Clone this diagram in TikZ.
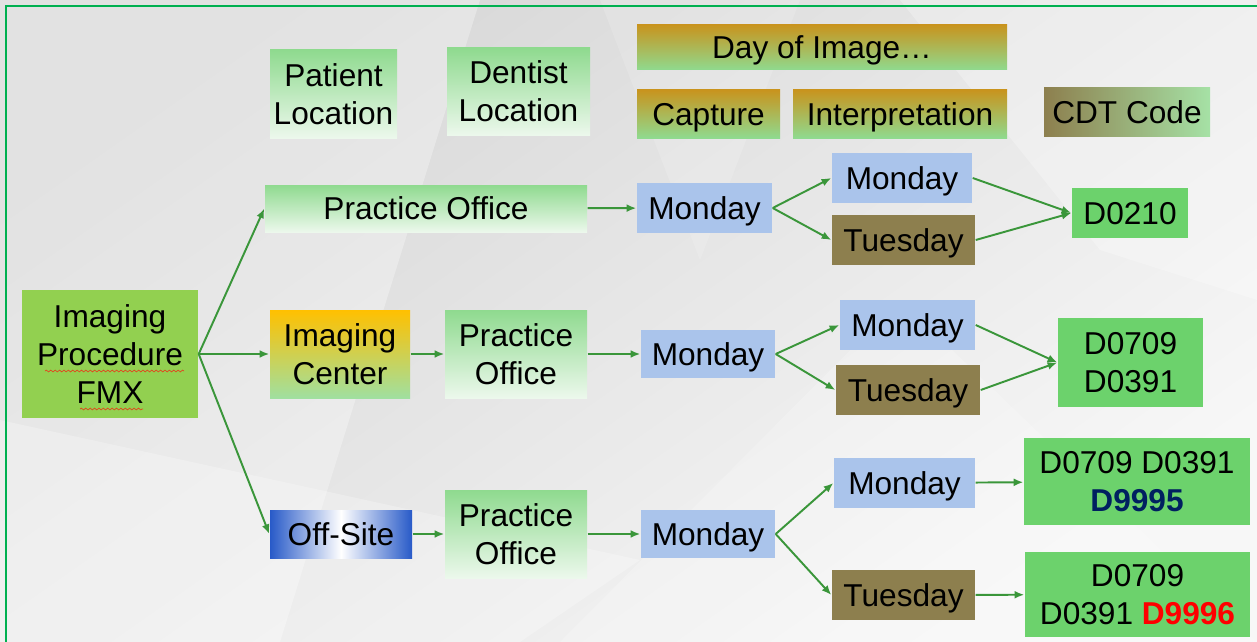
\documentclass[tikz,border=0pt]{standalone}
\usepackage{fontspec}
\setmainfont{Liberation Sans}
\usetikzlibrary{shapes,arrows.meta,positioning,calc,decorations.pathmorphing}

\definecolor{framegreen}{RGB}{0,176,80}
\definecolor{arrowgreen}{RGB}{58,150,58}
\definecolor{boxgreen}{RGB}{108,210,108}
\definecolor{limegreen}{RGB}{146,208,80}
\definecolor{paleblue}{RGB}{170,196,235}
\definecolor{olive}{RGB}{141,127,78}
\definecolor{gold}{RGB}{200,148,30}
\definecolor{amber}{RGB}{255,192,0}
\definecolor{softgreen}{RGB}{143,218,143}
\definecolor{fadegreen}{RGB}{236,248,236}
\definecolor{darknavy}{RGB}{0,32,96}
\definecolor{offblue}{RGB}{40,90,200}
\definecolor{spellred}{RGB}{225,70,30}

\begin{document}
\begin{tikzpicture}[
    x=0.02cm, y=-0.02cm,
    thick,
    >={Latex[length=5.5pt,width=4.5pt]},
    font=\fontsize{18}{21.8}\selectfont,
    every node/.style={align=center, inner sep=0pt},
    one line/.style={text height=16.5pt, text depth=3.8pt},
    size/.style 2 args={minimum width=#1*0.02cm, minimum height=#2*0.02cm},
    place node/.style={shading=axis, top color=softgreen, bottom color=fadegreen},
    day node/.style={one line, shading=axis, top color=gold, bottom color=softgreen},
    code head/.style={one line, shading=axis, left color=olive, right color=softgreen!80!white},
    center node/.style={shading=axis, top color=amber, bottom color=softgreen!85!white},
    offsite node/.style={one line, shading=axis, left color=offblue, right color=offblue, middle color=white},
    mon node/.style={one line, fill=paleblue},
    tue node/.style={one line, fill=olive},
    code node/.style={fill=boxgreen},
    proc node/.style={fill=limegreen},
    link/.style={->, draw=arrowgreen, line width=1.1pt},
    spell/.style={spellred, line width=0.4pt, decorate, decoration={snake, segment length=2.5pt, amplitude=0.5pt}}
]

% Background and frame
\useasboundingbox (0,0) rectangle (1257,642);
\shade[top color=gray!32, bottom color=gray!6, shading angle=35] (0,0) rectangle (1257,642);
\fill[white, opacity=0.3] (0,0) -- (480,0) -- (280,642) -- (0,642) -- cycle;
\fill[white, opacity=0.25] (900,0) -- (1257,0) -- (1257,300) -- (1100,250) -- cycle;
\fill[white, opacity=0.2] (560,642) -- (900,300) -- (1257,642) -- cycle;
\fill[white, opacity=0.25] (0,420) -- (640,560) -- (520,642) -- (0,642) -- cycle;
\fill[white, opacity=0.15] (600,0) -- (800,0) -- (700,260) -- cycle;
\draw[framegreen, line width=1.2pt] (6,6) rectangle (1262,648);

% Header boxes
\node[place node, size={127}{88}] (patloc) at (333.5,94) {Patient\\Location};
\node[place node, size={143}{87}] (dentloc) at (518.5,91.5) {Dentist\\Location};
\node[day node, size={370}{45}] (dayimg) at (822,47.5) {Day of Image\ldots};
\node[day node, size={143}{48}] (capture) at (708.5,114) {Capture};
\node[day node, size={214}{48}] (interp) at (900,114) {Interpretation};
\node[code head, size={166}{48}] (cdt) at (1127,112) {CDT Code};

% Procedure
\node[proc node, size={176}{128}] (fmx) at (110,354) {Imaging\\Procedure\\FMX};
\draw[spell] (45,371) -- (184,371);
\draw[spell] (80,409) -- (143,409);

% Row 1: practice office
\node[place node, one line, size={322}{47}] (po1) at (426,208.5) {Practice Office};
\node[mon node, size={135}{50}] (mon1) at (704.5,208) {Monday};
\node[mon node, size={140}{50}] (mon1b) at (902,178) {Monday};
\node[tue node, size={143}{50}] (tue1) at (903.5,240) {Tuesday};
\node[code node, one line, size={116}{50}] (code1) at (1130,213) {D0210};

% Row 2: imaging center
\node[center node, size={140}{88}] (imgc) at (340,354) {Imaging\\Center};
\node[place node, size={142}{88}] (po2) at (516,354) {Practice\\Office};
\node[mon node, size={134}{48}] (mon2) at (708,354) {Monday};
\node[mon node, size={135}{50}] (mon2b) at (907.5,325) {Monday};
\node[tue node, size={144}{50}] (tue2) at (908,390) {Tuesday};
\node[code node, size={145}{89}] (code2) at (1130.5,362.5) {D0709\\D0391};

% Row 3: off-site
\node[offsite node, size={142}{48}] (offsite) at (341,534) {Off-Site};
\node[place node, size={142}{88}] (po3) at (516,534) {Practice\\Office};
\node[mon node, size={134}{48}] (mon3) at (708,534) {Monday};
\node[mon node, size={141}{50}] (mon3b) at (904.5,483) {Monday};
\node[tue node, size={143}{50}] (tue3) at (903.5,595) {Tuesday};
\node[code node, size={226}{87}] (code3) at (1137,481.5) {D0709 D0391\\\textcolor{darknavy}{\textbf{D9995}}};
\node[code node, size={225}{85}] (code4) at (1137.5,594.5) {D0709\\D0391 \textcolor{red}{\textbf{D9996}}};

% Arrows
\draw[link] (fmx.east) -- (po1.west);
\draw[link] (fmx.east) -- (imgc.west);
\draw[link] (fmx.east) -- (offsite.west);

\draw[link] (po1) -- (mon1);
\draw[link] (mon1.east) -- (mon1b.west);
\draw[link] (mon1.east) -- (tue1.west);
\draw[link] (mon1b.east) -- (code1.west);
\draw[link] (tue1.east) -- (code1.west);

\draw[link] (imgc) -- (po2);
\draw[link] (po2) -- (mon2);
\draw[link] (mon2.east) -- (mon2b.west);
\draw[link] (mon2.east) -- (tue2.west);
\draw[link] (mon2b.east) -- (code2.west);
\draw[link] (tue2.east) -- (code2.west);

\draw[link] (offsite) -- (po3);
\draw[link] (po3) -- (mon3);
\draw[link] (mon3.east) -- (mon3b.west);
\draw[link] (mon3.east) -- (tue3.west);
\draw[link] (mon3b) -- (code3);
\draw[link] (tue3) -- (code4);

\end{tikzpicture}
\end{document}
